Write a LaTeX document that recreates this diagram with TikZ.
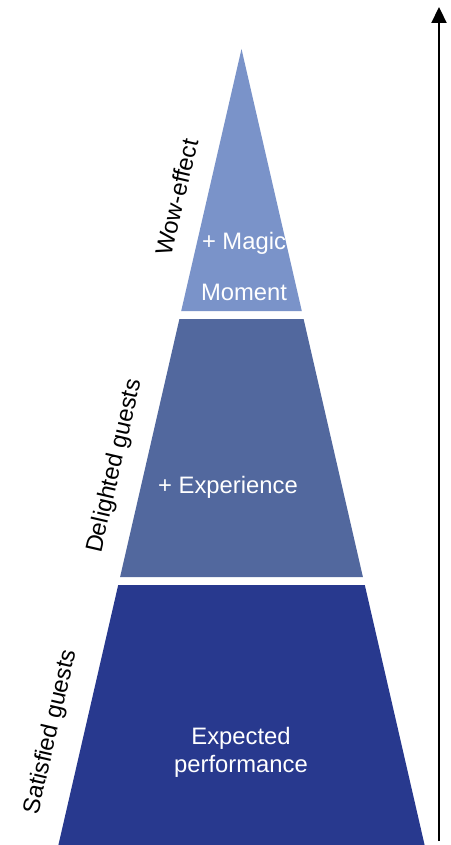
\documentclass[tikz,border=0pt]{standalone}
\usepackage{fontspec}
\setmainfont{Liberation Sans}
\usetikzlibrary{arrows.meta}
\definecolor{tierA}{RGB}{122,147,201}
\definecolor{tierB}{RGB}{82,104,158}
\definecolor{tierC}{RGB}{40,57,142}
\tikzset{
  inlabel/.style={text=white,font=\fontsize{23.8}{28}\selectfont,align=center,inner sep=0pt},
  sidelabel/.style={text=black,font=\fontsize{23.8}{26}\selectfont,rotate=77,inner sep=0pt}
}
\begin{document}
\begin{tikzpicture}[x=1pt,y=-1pt]
\useasboundingbox (0,0) rectangle (450,845);
% tiers
\fill[tierA] (241.5,49) -- (301.8,311) -- (181.2,311) -- cycle;
\fill[tierB] (179.4,319) -- (303.6,319) -- (362.9,577) -- (120.1,577) -- cycle;
\fill[tierC] (118.2,585) -- (364.8,585) -- (424.6,845) -- (58.4,845) -- cycle;
% inner texts
\node[inlabel] (magic) at (244,243) {+ Magic};
\node[inlabel] (moment) at (244,292) {Moment};
\node[inlabel] (exp) at (228,487) {+ Experience};
\node[inlabel] (perf) at (241,752) {Expected\\performance};
% side labels
\node[sidelabel] (wow) at (177,197) {Wow-effect};
\node[sidelabel] (del) at (115,466) {Delighted guests};
\node[sidelabel] (sat) at (51,732) {Satisfied guests};
% arrow
\coordinate (abot) at (439,841);
\coordinate (atop) at (439,7);
\draw[line width=2.2pt,-{Triangle[width=15pt,length=16pt]}] (abot) -- (atop);
\end{tikzpicture}
\end{document}
